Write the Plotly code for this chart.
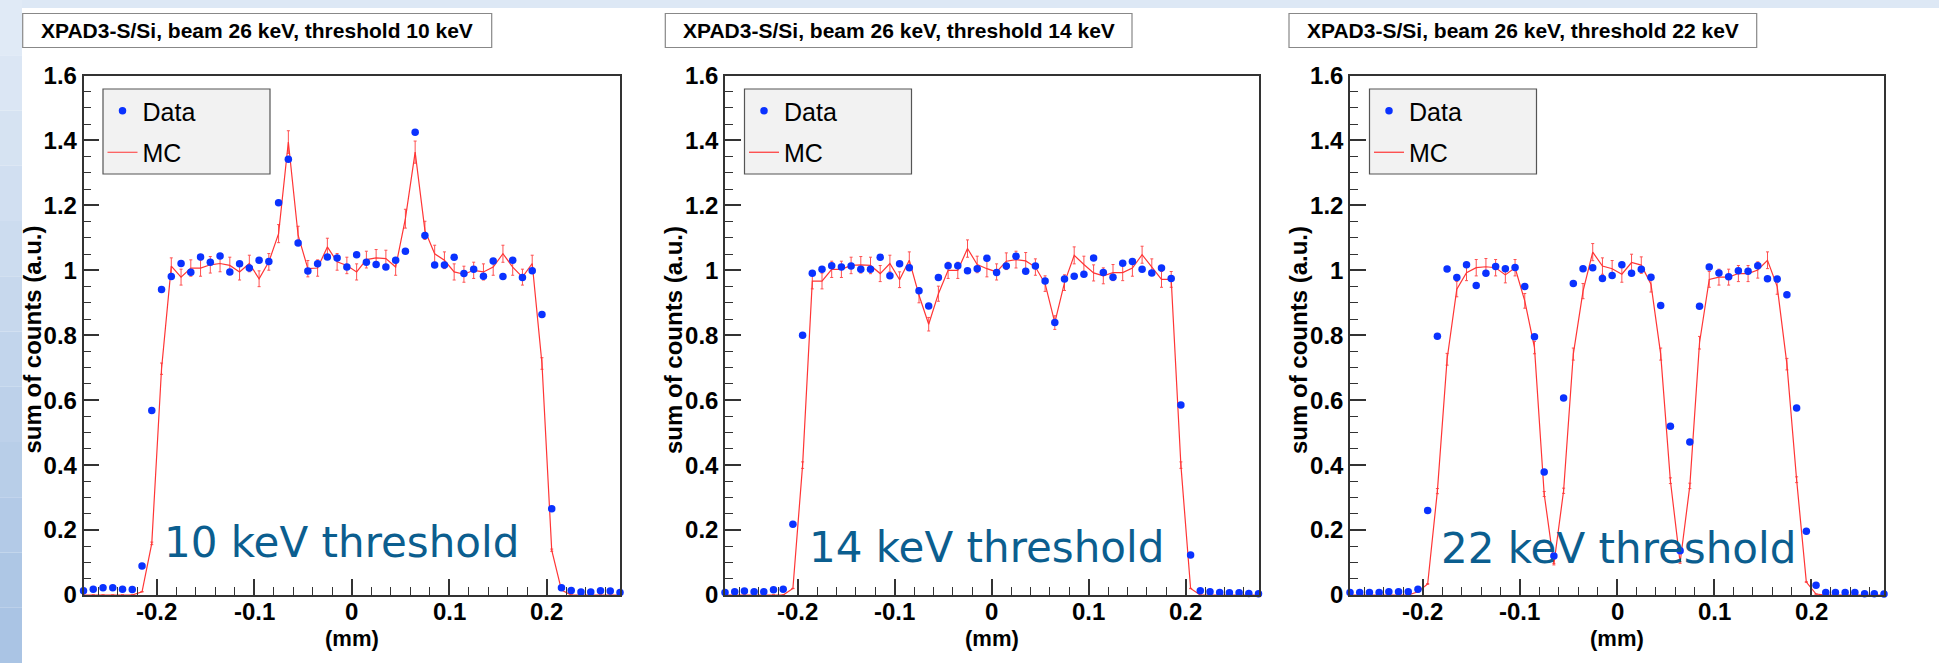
import plotly.graph_objects as go

# ----------------------------------------------
# data
# ----------------------------------------------

# bin centres in mm (56 bins of 0.01 mm)
X_MM = [-0.275, -0.265, -0.255, -0.245, -0.235, -0.225, -0.215, -0.205, -0.195, -0.185,
        -0.175, -0.165, -0.155, -0.145, -0.135, -0.125, -0.115, -0.105, -0.095, -0.085,
        -0.075, -0.065, -0.055, -0.045, -0.035, -0.025, -0.015, -0.005, 0.005, 0.015,
        0.025, 0.035, 0.045, 0.055, 0.065, 0.075, 0.085, 0.095, 0.105, 0.115,
        0.125, 0.135, 0.145, 0.155, 0.165, 0.175, 0.185, 0.195, 0.205, 0.215,
        0.225, 0.235, 0.245, 0.255, 0.265, 0.275]

DATA_10 = [0.013, 0.018, 0.022, 0.022, 0.018, 0.017, 0.089, 0.568, 0.941, 0.981,
           1.021, 0.994, 1.041, 1.025, 1.044, 0.995, 1.020, 1.007, 1.031, 1.027,
           1.208, 1.342, 1.084, 0.998, 1.020, 1.041, 1.038, 1.010, 1.048, 1.025,
           1.018, 1.010, 1.031, 1.059, 1.425, 1.107, 1.016, 1.016, 1.040, 0.990,
           1.003, 0.982, 1.029, 0.981, 1.031, 0.978, 0.999, 0.864, 0.266, 0.022,
           0.014, 0.009, 0.009, 0.013, 0.012, 0.008]
MC_10 = [0.0, 0.0, 0.0, 0.0, 0.0, 0.0, 0.010, 0.159, 0.697, 1.013,
         0.979, 1.007, 1.007, 1.017, 1.021, 1.015, 0.995, 1.021, 0.974, 1.026,
         1.113, 1.395, 1.108, 1.005, 1.007, 1.072, 1.026, 1.015, 0.995, 1.033,
         1.038, 1.036, 1.010, 1.159, 1.364, 1.123, 1.051, 1.031, 0.995, 0.988,
         1.000, 0.995, 1.010, 1.051, 1.010, 0.979, 1.021, 0.713, 0.138, 0.015,
         0.0, 0.0, 0.0, 0.0, 0.0, 0.0]

DATA_14 = [0.008, 0.010, 0.012, 0.010, 0.010, 0.016, 0.018, 0.218, 0.800, 0.991,
           1.003, 1.014, 1.010, 1.013, 1.003, 1.003, 1.040, 0.983, 1.020, 1.008,
           0.937, 0.890, 0.978, 1.014, 1.014, 0.999, 1.005, 1.037, 0.993, 1.013,
           1.043, 0.997, 1.013, 0.967, 0.839, 0.973, 0.982, 0.988, 1.038, 0.993,
           0.979, 1.022, 1.027, 1.003, 0.992, 1.007, 0.975, 0.585, 0.123, 0.013,
           0.010, 0.008, 0.007, 0.007, 0.005, 0.004]
MC_14 = [0.0, 0.0, 0.0, 0.0, 0.0, 0.0, 0.0, 0.020, 0.400, 0.967,
         0.967, 1.003, 1.003, 1.015, 1.017, 1.015, 0.990, 1.021, 0.971, 1.031,
         0.923, 0.834, 0.928, 1.000, 1.000, 1.067, 1.018, 1.005, 0.995, 1.028,
         1.033, 1.029, 1.010, 0.959, 0.839, 0.962, 1.046, 1.018, 0.992, 0.983,
         0.993, 0.993, 1.007, 1.048, 1.010, 0.972, 0.972, 0.400, 0.020, 0.0,
         0.0, 0.0, 0.0, 0.0, 0.0, 0.0]

DATA_22 = [0.008, 0.008, 0.008, 0.008, 0.010, 0.010, 0.010, 0.018, 0.260, 0.797,
           1.004, 0.978, 1.017, 0.953, 0.991, 1.012, 1.005, 1.009, 0.950, 0.795,
           0.379, 0.120, 0.607, 0.959, 1.005, 1.008, 0.975, 0.984, 1.017, 0.991,
           1.003, 0.979, 0.892, 0.520, 0.136, 0.471, 0.889, 1.010, 0.992, 0.980,
           0.999, 0.997, 1.014, 0.974, 0.973, 0.925, 0.576, 0.196, 0.030, 0.008,
           0.008, 0.008, 0.008, 0.004, 0.004, 0.003]
MC_22 = [0.0, 0.0, 0.0, 0.0, 0.0, 0.0, 0.0, 0.010, 0.034, 0.320,
         0.726, 0.942, 0.993, 1.008, 1.011, 1.008, 0.986, 1.008, 0.906, 0.762,
         0.311, 0.095, 0.321, 0.742, 0.936, 1.056, 1.013, 1.005, 0.988, 1.024,
         1.016, 0.957, 0.742, 0.352, 0.100, 0.336, 0.777, 0.972, 0.979, 0.979,
         0.990, 0.990, 1.001, 1.031, 0.950, 0.711, 0.355, 0.040, 0.003, 0.0,
         0.0, 0.0, 0.0, 0.0, 0.0, 0.0]

TITLES = ["XPAD3-S/Si, beam 26 keV, threshold 10 keV",
          "XPAD3-S/Si, beam 26 keV, threshold 14 keV",
          "XPAD3-S/Si, beam 26 keV, threshold 22 keV"]
LABELS = ["10 keV threshold", "14 keV threshold", "22 keV threshold"]

X_TICKS = [-0.2, -0.1, 0, 0.1, 0.2]
X_TICK_TEXT = ["-0.2", "-0.1", "0", "0.1", "0.2"]

# ----------------------------------------------
# page geometry (pixels)
# ----------------------------------------------
W, H = 1939, 663

FRAME_LEFT = [83.5, 725, 1350]
FRAME_RIGHT = [620, 1258.5, 1884]
FRAME_TOP, FRAME_BOTTOM = 75.5, 595
TITLE_BOX = [(22.7, 491.7), (665.3, 1132), (1289, 1756.7)]
LABEL_LEFT = [161.7, 806.7, 1439]
LABEL_BASE = [556.7, 561.7, 563]

BOLD = dict(family="Liberation Sans", weight="bold", color="black")


def px(x):
    return x / W


def py(y):
    return 1 - y / H


fig = go.Figure()
shapes = []
annotations = []

# slide background: light blue strip on top and a gradient strip on the left
shapes.append(dict(type="rect", xref="paper", yref="paper", x0=0, x1=1, y0=py(8), y1=1,
                   fillcolor="#dde8f5", line_width=0, layer="below"))
n_band = 12
for k in range(n_band):
    t = k / (n_band - 1)
    r = int(224 - 54 * t)
    g = int(234 - 38 * t)
    b = int(246 - 18 * t)
    shapes.append(dict(type="rect", xref="paper", yref="paper", x0=0, x1=px(22),
                       y0=1 - (k + 1) / n_band, y1=1 - k / n_band,
                       fillcolor="rgb(%d,%d,%d)" % (r, g, b), line_width=0, layer="below"))

series = [(DATA_10, MC_10), (DATA_14, MC_14), (DATA_22, MC_22)]

for p in range(3):
    s = "" if p == 0 else str(p + 1)
    data, mc = series[p]
    lg = "legend" + s

    fig.add_trace(go.Scatter(
        x=X_MM, y=mc, mode="lines", name="MC",
        line=dict(color="#ff3535", width=1.2),
        error_y=dict(type="percent", value=2.5, color="#ff5050", thickness=1, width=1.5),
        xaxis="x" + s, yaxis="y" + s, legend=lg, legendrank=2, legendgroup="mc" + s))
    fig.add_trace(go.Scatter(
        x=X_MM, y=data, mode="markers", name="Data",
        marker=dict(color="#0a32ff", size=7.5),
        cliponaxis=False,
        xaxis="x" + s, yaxis="y" + s, legend=lg, legendrank=1, legendgroup="data" + s))

    left, right = FRAME_LEFT[p], FRAME_RIGHT[p]
    fig.update_layout({
        "xaxis" + s: dict(
            domain=[px(left), px(right)], range=[-0.275, 0.275], anchor="y" + s,
            automargin=False, showticklabels=False,
            tickmode="array", tickvals=X_TICKS,
            ticks="inside", ticklen=16, tickwidth=1.5, tickcolor="#333",
            minor=dict(tickmode="linear", tick0=0, dtick=0.02, ticks="inside",
                       ticklen=8, tickwidth=1.2, tickcolor="#333"),
            showline=True, linecolor="#333", linewidth=1.5, mirror=True,
            showgrid=False, zeroline=False),
        "yaxis" + s: dict(
            domain=[py(FRAME_BOTTOM), py(FRAME_TOP)], range=[0, 1.6], anchor="x" + s,
            automargin=False,
            tick0=0, dtick=0.2, ticks="inside", ticklen=16, tickwidth=1.5, tickcolor="#333",
            minor=dict(tick0=0, dtick=0.05, ticks="inside", ticklen=8,
                       tickwidth=1.2, tickcolor="#333"),
            showline=True, linecolor="#333", linewidth=1.5, mirror=True,
            showgrid=False, zeroline=False, tickfont=dict(size=24, **BOLD)),
        lg: dict(
            x=px(left + 19), y=py(88), xanchor="left", yanchor="top",
            bgcolor="rgba(0,0,0,0)", borderwidth=0, tracegroupgap=6,
            traceorder="grouped",
            font=dict(family="Liberation Sans", size=25, color="black")),
    })

    # x tick labels, placed on the axis scale just under the frame (ROOT style)
    for tv, tt in zip(X_TICKS, X_TICK_TEXT):
        annotations.append(dict(text=tt, x=tv, xref="x" + s, y=py(611), yref="paper",
                                showarrow=False, xanchor="center", yanchor="middle",
                                font=dict(size=24, **BOLD)))

    # legend frame
    shapes.append(dict(type="rect", xref="paper", yref="paper",
                       x0=px(left + 19.5), x1=px(left + 186.5), y0=py(174), y1=py(89),
                       fillcolor="#f2f2f2", line=dict(color="#555", width=1.2), layer="above"))

    # title box
    tx0, tx1 = TITLE_BOX[p]
    shapes.append(dict(type="rect", xref="paper", yref="paper",
                       x0=px(tx0), x1=px(tx1), y0=py(47.5), y1=py(13.5),
                       fillcolor="white", line=dict(color="#888", width=1.2)))
    annotations.append(dict(text=TITLES[p], x=px((tx0 + tx1) / 2), y=py(30.5),
                            xref="paper", yref="paper", showarrow=False,
                            xanchor="center", yanchor="middle", font=dict(size=21, **BOLD)))

    # axis titles
    annotations.append(dict(text="sum of counts (a.u.)", x=px(left - 51), y=py(340),
                            textangle=-90, xref="paper", yref="paper", showarrow=False,
                            xanchor="center", yanchor="middle", font=dict(size=24, **BOLD)))
    annotations.append(dict(text="(mm)", x=px((left + right) / 2), y=py(638),
                            xref="paper", yref="paper", showarrow=False,
                            xanchor="center", yanchor="middle", font=dict(size=22, **BOLD)))

    # threshold label written on the slide
    annotations.append(dict(text=LABELS[p], x=px(LABEL_LEFT[p]), y=py(LABEL_BASE[p] - 14.6),
                            xref="paper", yref="paper", showarrow=False,
                            xanchor="left", yanchor="middle",
                            font=dict(family="DejaVu Sans", size=42, color="#0b5e8f")))

fig.update_layout(
    width=W, height=H,
    margin=dict(l=0, r=0, t=0, b=0, autoexpand=False),
    paper_bgcolor="white", plot_bgcolor="white",
    showlegend=True,
    shapes=shapes, annotations=annotations,
)

# pin the figure to the top-left corner of the page
pin = ("var d=document.getElementById('{plot_id}');"
       "d.style.position='fixed';d.style.top='0';d.style.left='0';"
       "document.body.style.margin='0';document.body.style.overflow='hidden';"
       "document.documentElement.style.overflow='hidden';")

fig.write_html("out.html", config={"displayModeBar": False}, post_script=pin)
